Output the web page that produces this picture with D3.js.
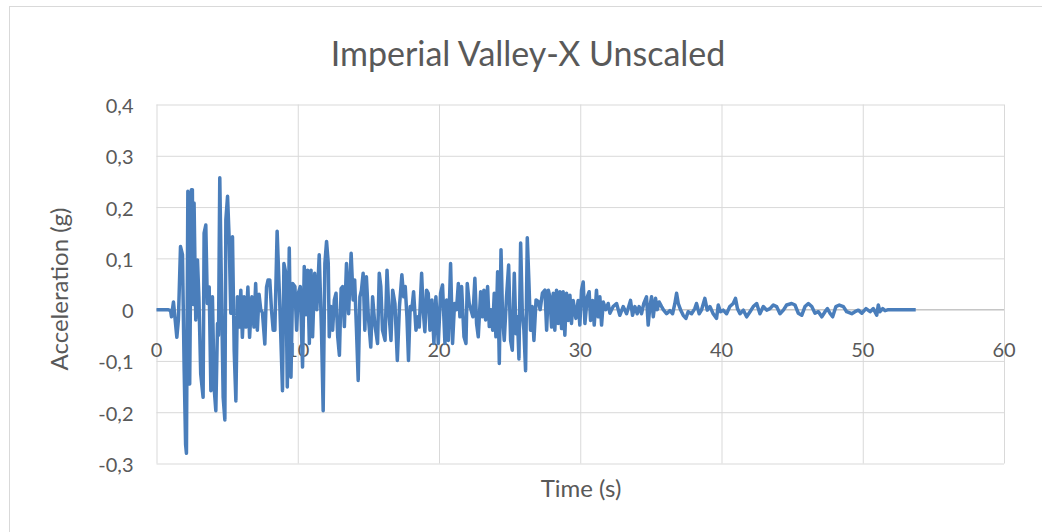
<!DOCTYPE html>
<meta charset="utf-8">
<style>
body {
  margin: 0;
  background: #fff;
}
text {
  font-family: Lato, "Noto Sans", sans-serif;
  fill: #595959;
}
.grid line {
  stroke: #d9d9d9;
  stroke-width: 1;
}
.grid path {
  display: none;
}
</style>
<body>
<script src="https://cdn.jsdelivr.net/npm/d3@7"></script>
<script>

var width = 1042,
    height = 532;

var margin = {top: 104.5, right: 38, bottom: 68.5, left: 156.5};

// time (s) and acceleration (g), peaks
var time = [
  0, 0.8, 1.0, 1.06, 1.2, 1.44, 1.55, 1.70, 1.84, 1.96, 2.06, 2.12, 2.22, 2.35, 2.47, 2.54, 2.6, 2.66, 2.78, 2.9,
  3.0, 3.13, 3.3, 3.37, 3.49, 3.6, 3.73, 3.85, 3.96, 4.08, 4.2, 4.32, 4.39, 4.48, 4.62, 4.72, 4.84, 4.91, 5.03, 5.14,
  5.26, 5.38, 5.5, 5.62, 5.73, 5.85, 5.97, 6.08, 6.2, 6.33, 6.47, 6.59, 6.75, 6.9, 7.02, 7.14, 7.26, 7.38, 7.5, 7.67,
  7.79, 7.9, 8.02, 8.14, 8.26, 8.38, 8.54, 8.73, 8.92,
  9.02, 9.16, 9.26, 9.4, 9.52, 9.64, 9.8, 9.92, 10.04, 10.18, 10.34, 10.46, 10.58, 10.7, 10.82, 10.94, 11.05, 11.2,
  11.35, 11.52, 11.68, 11.8, 11.92, 12.04, 12.16, 12.23, 12.35, 12.47, 12.59, 12.71, 12.83, 12.95, 13.07, 13.18, 13.3,
  13.45, 13.6, 13.78, 13.92, 14.03, 14.15, 14.28, 14.4, 14.51, 14.63, 14.75, 14.86, 15.0, 15.17, 15.3, 15.45, 15.65,
  15.77, 15.88, 16.0, 16.18, 16.32, 16.46, 16.6, 16.72, 16.88, 17.05, 17.2, 17.37, 17.5, 17.61, 17.73, 17.84, 17.96, 18.08,
  18.2, 18.37, 18.5, 18.6, 18.77, 18.88, 19.0, 19.12, 19.24, 19.36, 19.5, 19.64, 19.78, 19.95, 20.11, 20.25, 20.42,
  20.54, 20.66, 20.82, 20.96, 21.1, 21.24, 21.37, 21.48, 21.6, 21.77, 21.91, 22.0, 22.14, 22.26, 22.4, 22.54, 22.66,
  22.78, 22.95, 23.07, 23.18, 23.3, 23.44, 23.56, 23.68, 23.8, 23.91, 24.03, 24.15, 24.27, 24.39, 24.5, 24.62, 24.78,
  24.93, 25.07, 25.19, 25.33, 25.45, 25.55, 25.66, 25.78, 25.9, 26.01, 26.13, 26.25, 26.36, 26.48, 26.6, 26.72, 26.87,
  27.02, 27.16, 27.32, 27.5, 27.62, 27.74,
  27.85, 27.97, 28.09, 28.2, 28.32, 28.44, 28.56, 28.68, 28.79, 28.91, 29.03, 29.15, 29.27, 29.38, 29.5, 29.69, 29.85,
  29.97, 30.09, 30.21, 30.33, 30.5, 30.63, 30.73, 30.87, 30.99, 31.15, 31.27, 31.39, 31.51, 31.63, 31.81, 31.98, 32.1,
  32.33, 32.57, 32.8, 33.04, 33.28, 33.56, 33.7, 33.87, 34.03, 34.17, 34.34, 34.5, 34.69, 34.81, 34.93, 35.05, 35.17,
  35.33, 35.45, 35.59, 35.76, 35.88, 36.11, 36.35, 36.54, 36.7, 36.82, 36.94, 37.1, 37.29, 37.48, 37.64, 37.88, 38.11,
  38.23, 38.42, 38.58, 38.82, 38.99, 39.18, 39.41, 39.65, 39.77, 39.93, 40.12, 40.36, 40.59, 40.83, 40.99, 41.13,
  41.31, 41.55, 41.78, 42.02, 42.25, 42.49, 42.72, 42.96, 43.2, 43.43, 43.67, 43.9, 44.14, 44.38, 44.61, 44.97, 45.2,
  45.44, 45.68, 45.91, 46.15, 46.39, 46.62, 46.86, 47.1, 47.33, 47.5, 47.68, 47.87, 48.1, 48.34, 48.63, 48.86, 49.22,
  49.45, 49.69, 49.93, 50.23, 50.52, 50.75, 50.99, 51.1, 51.22, 51.41, 51.58, 51.81, 52.5, 53.0, 53.75
];

var accel = [
  0, 0, -0.002, -0.014, 0.015, -0.054, -0.02, 0.123, 0.107, -0.119, -0.263, -0.28, 0.231, -0.145, 0.234, 0.234, 0.01, 0.208, -0.02, 0.097,
  0.025, -0.125, -0.171, 0.149, 0.165, 0.012, 0.044, -0.158, 0.025, -0.152, -0.197, -0.027, -0.05, 0.257, 0, -0.171, -0.215, 0.175, 0.221, 0.142,
  -0.007, 0.142, -0.08, -0.178, 0.025, -0.034, 0.038, -0.054, 0.025, -0.034, 0.044, -0.054, 0.025, -0.034, 0.051, -0.04, 0.03, 0.0, -0.006, -0.067,
  0.044, 0.058, 0.058, 0.0, -0.04, -0.04, 0.153, 0.008, -0.158,
  0.09, 0.071, -0.151, 0.12, -0.132, 0.051, 0.045, -0.04, 0.032, 0.045, -0.112, 0.084, -0.01, 0.077, -0.066, 0.077, -0.053, 0.071,
  0.0, 0.107, -0.04, -0.197, 0.09, 0.133, 0.09, -0.053, 0.006, -0.04, 0.019, 0.032, -0.053, -0.089, 0.041, 0.045, -0.033,
  0.09, -0.008, 0.11, 0.019, 0.058, -0.033, -0.138, 0.025, 0.038, 0.071, -0.04, 0.064, -0.014, -0.073, 0.025, -0.027, -0.066,
  0.071, 0.045, -0.04, -0.06, 0.077, -0.008, -0.06, 0.038, 0.012, -0.099, 0.006, 0.068, 0.025, 0.045, -0.014, -0.099, 0.006, 0.0,
  0.035, -0.04, -0.014, -0.034, 0.071, -0.001, -0.043, 0.038, 0.032, -0.04, 0.019, -0.066, 0.025, -0.066, 0.032, 0.048, -0.066,
  0.019, -0.06, 0.09, -0.066, 0.012, 0.0, 0.051, -0.014, 0.045, -0.053, -0.066, 0.051, 0.012, 0.0, -0.014, 0.061, -0.027,
  -0.053, 0.035, -0.014, 0.038, -0.02, 0.045, -0.033, 0.0, -0.04, 0.032, -0.053, 0.074, -0.105, 0.117, -0.014, -0.06, 0.025,
  0.087, -0.06, -0.079, 0.071, -0.047, -0.014, -0.096, 0.13, -0.008, -0.04, -0.119, 0.14, 0.058, -0.04, 0.006, -0.06, 0.019,
  0.016, 0.0, 0.032, 0.038, -0.04, 0.038,
  0.025, -0.034, 0.032, -0.04, 0.038, -0.027, 0.035, -0.037, 0.035, -0.05, 0.032, -0.021, 0.028, -0.027, 0.018, -0.017, 0.018,
  -0.03, 0.038, 0.054, -0.027, 0.025, 0.035, -0.021, 0.018, -0.03, 0.038, -0.014, 0.025, -0.03, 0.015, 0.0, 0.012, -0.007,
  0.006, 0.012, -0.011, 0.006, -0.008, 0.018, -0.011, 0.006, -0.008, 0.006, -0.008, 0.012, 0.025, -0.03, 0.006, 0.025, -0.014,
  0.022, 0.0, 0.015, 0.006, 0.0, -0.008, -0.002, -0.008, 0.012, 0.032, 0.012, 0.0, -0.011, -0.017, -0.004, -0.008, 0.002,
  0.012, -0.008, -0.001, 0.022, -0.001, 0.006, -0.008, -0.017, 0.009, -0.004, -0.001, -0.008, 0.006, 0.012, 0.022, 0.002,
  -0.008, -0.001, -0.014, -0.004, 0.006, 0.012, -0.008, 0.006, -0.001, 0.002, 0.009, 0.006, -0.008, -0.001, 0.009, 0.012, 0.009,
  -0.007, -0.011, 0.006, 0.012, 0.006, -0.007, -0.004, -0.014, -0.004, 0.002, -0.007, -0.014, 0.006, 0.009, 0.006, -0.004, -0.008,
  -0.004, -0.001, -0.007, 0.002, -0.004, 0.002, -0.011, 0.009, -0.004, 0.002, -0.002, 0.0, 0.0, 0.0, 0.0
];

var xTicks = [0, 10, 20, 30, 40, 50, 60];
var yTicks = [-0.3, -0.2, -0.1, 0, 0.1, 0.2, 0.3, 0.4];

var data = time.map(function(t, i) { return {t: t, a: accel[i]}; });

var svg = d3.select("body").append("svg")
    .attr("width", width)
    .attr("height", height);

// chart border (only top and left are in frame)
svg.append("rect")
    .attr("x", 9.5)
    .attr("y", 6.5)
    .attr("width", 1100)
    .attr("height", 600)
    .attr("fill", "none")
    .attr("stroke", "#d9d9d9");

var w = width - margin.left - margin.right,
    h = height - margin.top - margin.bottom;

var x = d3.scaleLinear().domain([0, 60]).range([0, w]);
var y = d3.scaleLinear().domain([-0.3, 0.4]).range([h, 0]);

var fmt = function(d) { return d3.format(".1~f")(d).replace(".", ",").replace("−", "-"); };

var g = svg.append("g")
    .attr("transform", "translate(" + margin.left + "," + margin.top + ")");

g.append("g")
    .attr("class", "grid")
    .call(d3.axisLeft(y).tickValues(yTicks).tickSize(-w).tickFormat(""));

g.append("g")
    .attr("class", "grid")
    .attr("transform", "translate(0," + h + ")")
    .call(d3.axisBottom(x).tickValues(xTicks).tickSize(-h).tickFormat(""));

// horizontal axis line at zero
g.append("line")
    .attr("x1", 0)
    .attr("x2", w)
    .attr("y1", y(0))
    .attr("y2", y(0))
    .attr("stroke", "#bfbfbf")
    .attr("stroke-width", 1);

// y tick labels
g.selectAll(".ylabel")
    .data(yTicks)
  .enter().append("text")
    .attr("class", "ylabel")
    .attr("x", -23)
    .attr("y", function(d) { return y(d) + 1.5; })
    .attr("dy", "0.35em")
    .attr("text-anchor", "end")
    .style("font-size", "20px")
    .text(fmt);

// x tick labels sit just below the zero line
g.selectAll(".xlabel")
    .data(xTicks)
  .enter().append("text")
    .attr("class", "xlabel")
    .attr("x", function(d) { return x(d); })
    .attr("y", y(0) + 47.5)
    .attr("text-anchor", "middle")
    .style("font-size", "20px")
    .text(fmt);

var line = d3.line()
    .x(function(d) { return x(d.t); })
    .y(function(d) { return y(d.a); });

g.append("path")
    .datum(data)
    .attr("d", line)
    .attr("fill", "none")
    .attr("stroke", "#4a7ebb")
    .attr("stroke-width", 3.5)
    .attr("stroke-linejoin", "round");

// titles
svg.append("text")
    .attr("x", 528)
    .attr("y", 66)
    .attr("text-anchor", "middle")
    .style("font-size", "34px")
    .text("Imperial Valley-X Unscaled");

svg.append("text")
    .attr("x", 581)
    .attr("y", 497)
    .attr("text-anchor", "middle")
    .style("font-size", "24px")
    .text("Time (s)");

svg.append("text")
    .attr("transform", "translate(68,289) rotate(-90)")
    .attr("text-anchor", "middle")
    .style("font-size", "24px")
    .text("Acceleration (g)");

</script>
